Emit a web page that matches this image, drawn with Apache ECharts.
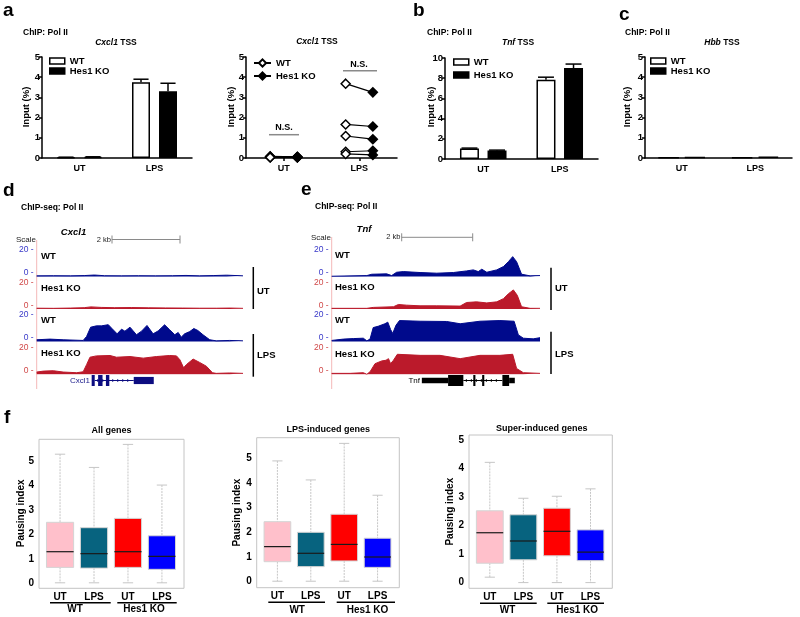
<!DOCTYPE html>
<html><head><meta charset="utf-8">
<script src="https://cdn.jsdelivr.net/npm/echarts@6/dist/echarts.min.js"></script>
<style>html,body{margin:0;padding:0;background:#fff}#c{width:800px;height:617px}</style>
</head><body><div id="c"></div><script>
// ================= DATA =================
const barCats = ['UT', 'LPS'];
// a: Cxcl1 TSS ChIP Pol II (Input %)
const cxcl1WT = [0.03, 3.75];
const cxcl1WTErr = [0.01, 0.15];
const cxcl1KO = [0.05, 3.3];
const cxcl1KOErr = [0.01, 0.4];
// a (right): individual replicates
const repUT_WT = [0.08, 0.06, 0.05, 0.04, 0.03];
const repUT_KO = [0.06, 0.05, 0.04, 0.04, 0.03];
const repLPS_WT = [3.68, 1.66, 1.09, 0.31, 0.20];
const repLPS_KO = [3.25, 1.56, 0.93, 0.36, 0.15];
// b: Tnf TSS
const tnfWT = [1.05, 7.85];
const tnfWTErr = [0.03, 0.25];
const tnfKO = [0.85, 9.0];
const tnfKOErr = [0.03, 0.4];
// c: Hbb TSS
const hbbWT = [0.02, 0.03];
const hbbKO = [0.04, 0.07];
// d: ChIP-seq Cxcl1 locus, [position kb, signal]
const cxcl1_WT_UT = [[0,0.5],[0.5,0.6],[1.0,0.5],[1.4,0.7],[1.7,1.1],[2.0,0.6],[2.5,0.5],[3.0,0.6],[3.5,0.5],[4.0,0.6],[4.4,0.8],[4.8,0.5],[5.2,0.7],[5.6,1.0],[6.08,0.5]];
const cxcl1_KO_UT = [[0,0.6],[0.5,0.5],[1.0,0.7],[1.4,1.0],[1.6,1.6],[1.9,1.2],[2.3,1.0],[2.8,1.1],[3.3,0.9],[3.8,0.8],[4.3,0.7],[4.8,0.6],[5.3,0.6],[5.7,0.7],[6.08,0.5]];
const cxcl1_WT_LPS = [[0,1.3],[0.39,1.8],[0.78,1.3],[1.37,0.8],[1.47,3.8],[1.59,10.8],[1.76,11.8],[1.91,11.8],[2.11,12.7],[2.21,10],[2.37,5.8],[2.5,9.3],[2.6,7.8],[2.75,10.8],[2.94,5.1],[3.09,7.8],[3.25,12.1],[3.43,5.8],[3.58,8],[3.77,12.6],[3.92,8.8],[4.07,5.1],[4.17,6.8],[4.26,3.3],[4.36,5.8],[4.51,7.5],[4.63,9.8],[4.75,8.3],[4.9,5.1],[5.1,1.3],[5.29,0.5],[5.69,0.8],[6.08,0.5]];
const cxcl1_KO_LPS = [[0,1.7],[0.2,2.4],[0.49,2.7],[0.78,1.7],[1.18,1.2],[1.37,1.9],[1.47,7.3],[1.57,12.9],[1.76,13.9],[2.16,14.2],[2.35,12.9],[2.75,13.4],[3.14,12.2],[3.53,13.4],[3.92,14.2],[4.12,13.9],[4.22,11],[4.33,4.9],[4.41,7.3],[4.61,11.5],[4.8,9],[5.0,6.1],[5.18,1.2],[5.29,0.7],[5.69,1],[6.08,0.7]];
const cxcl1Exons = [[1.62,1.71,1],[1.81,1.94,1],[2.04,2.14,1],[2.86,3.45,0.65]];
const cxcl1Introns = [[1.71,2.86]];
// e: ChIP-seq Tnf locus
const tnf_WT_UT = [[0,0.2],[0.99,0.7],[1.13,1.7],[1.55,2.0],[1.69,0.7],[1.83,3.2],[2.02,3.7],[2.49,3.0],[2.96,2.5],[3.43,3.0],[3.8,4.2],[3.99,5.0],[4.13,3.7],[4.23,5.5],[4.37,3.2],[4.65,5.0],[4.84,7.5],[4.98,11.2],[5.1,15.0],[5.21,11.2],[5.35,1.7],[5.59,0.5],[5.87,0.7]];
const tnf_KO_UT = [[0,0.5],[0.99,0.5],[1.17,1.2],[1.74,1.7],[1.88,3.4],[2.11,2.9],[2.49,2.4],[2.96,2.4],[3.62,2.2],[3.8,4.9],[4.08,5.4],[4.37,4.6],[4.65,5.4],[4.84,7.8],[4.98,11.5],[5.12,14.4],[5.23,10.3],[5.35,1.7],[5.59,0.5],[5.87,0.5]];
const tnf_WT_LPS = [[0,0.8],[0.33,1.8],[0.61,2.2],[0.89,2.5],[0.99,0.5],[1.08,1.8],[1.17,10.5],[1.31,11.5],[1.5,13.4],[1.58,14.6],[1.66,9.0],[1.72,6.1],[1.81,12.2],[1.91,15.8],[2.49,15.3],[3.24,15.1],[3.62,13.4],[4.18,15.3],[4.74,15.8],[5.14,15.3],[5.26,5.0],[5.4,2.5],[5.68,2.0],[5.87,2.9]];
const tnf_KO_LPS = [[0,0.7],[0.52,0.7],[0.89,1.2],[0.99,0],[1.08,1.9],[1.22,8.0],[1.41,10.1],[1.53,10.6],[1.6,11.8],[1.66,8.0],[1.74,10.6],[1.85,15.1],[2.49,14.3],[3.05,14.3],[3.62,11.8],[4.18,14.3],[4.74,14.3],[5.1,15.1],[5.21,4.4],[5.4,1.2],[5.87,0.7]];
const tnfExons = [[2.54,3.28,0.5],[3.28,3.71,1],[3.99,4.05,1],[4.24,4.30,1],[4.81,5.0,1],[5.0,5.16,0.5]];
const tnfIntrons = [[3.71,4.81]];
// f: pausing index boxplots [min, Q1, median, Q3, max] for WT-UT, WT-LPS, KO-UT, KO-LPS
const boxGroups = ['UT', 'LPS', 'UT', 'LPS'];
const allGenesStats = [[0.02,0.65,1.29,2.49,5.27],[0.02,0.62,1.21,2.27,4.73],[0.02,0.65,1.29,2.65,5.67],[0.02,0.57,1.10,1.94,4.01]];
const lpsInducedStats = [[0.02,0.81,1.42,2.43,4.89],[0.02,0.61,1.15,2.00,4.12],[0.02,0.84,1.51,2.73,5.60],[0.02,0.58,1.00,1.76,3.50]];
const superInducedStats = [[0.19,0.68,1.75,2.52,4.22],[0.0,0.80,1.46,2.38,2.96],[0.0,0.94,1.80,2.61,3.03],[0.0,0.77,1.07,1.85,3.29]];
const boxColors = ['#ffc0cb', '#07637f', '#ff0000', '#0000ff'];

// ================= BUILD =================
const FONT = '"Liberation Sans", Arial, Helvetica, sans-serif';
const grids = [], xAxes = [], yAxes = [], extraY = [], series = [], graphics = [], legends = [];
function addGrid(g) { grids.push(g); return grids.length - 1; }
const BLUE = '#000a8c', RED = '#bb1a2b';

function T(x, y, text, o) {
  o = o || {};
  const st = { text: text, fill: o.color || '#000', fontFamily: FONT, fontSize: o.size || 9,
    fontWeight: o.weight || 'bold', fontStyle: o.italic ? 'italic' : 'normal',
    align: o.align || 'left', verticalAlign: 'middle' };
  if (o.rich) st.rich = o.rich;
  graphics.push({ type: 'text', x: x, y: y, rotation: o.rot || 0, silent: true, style: st });
}
function L(x1, y1, x2, y2, o) {
  o = o || {};
  graphics.push({ type: 'line', silent: true, shape: { x1: x1, y1: y1, x2: x2, y2: y2 },
    style: { stroke: o.color || '#000', lineWidth: o.w || 1.5 } });
}
const italicRich = (sz) => ({ i: { fontStyle: 'italic', fontWeight: 'bold', fontSize: sz, fontFamily: FONT, fill: '#000' } });

const axisBlack = { lineStyle: { color: '#000', width: 1.5 } };
function barAxes(i, ymax, yint) {
  xAxes.push({ gridIndex: i, type: 'category', data: barCats, axisLine: axisBlack,
    axisTick: { alignWithLabel: true, length: 3, lineStyle: { color: '#000', width: 1.5 } },
    axisLabel: { color: '#000', fontWeight: 'bold', fontSize: 9, fontFamily: FONT, margin: 6 } });
  yAxes.push({ gridIndex: i, type: 'value', min: 0, max: ymax, interval: yint,
    axisLine: { show: true, lineStyle: { color: '#000', width: 1.5 } },
    axisTick: { show: true, length: 3, lineStyle: { color: '#000', width: 1.5 } },
    axisLabel: { color: '#000', fontWeight: 'bold', fontSize: 9.5, fontFamily: FONT, margin: 2 },
    splitLine: { show: false } });
}
function errSeries(i, vals, errs, dx, half) {
  return { type: 'custom', xAxisIndex: i, yAxisIndex: i, z: 5,
    data: vals.map((v, k) => [k, v, v + errs[k]]),
    encode: { x: 0, y: [1, 2] },
    renderItem: function (params, api) {
      const p0 = api.coord([api.value(0), api.value(1)]);
      const p1 = api.coord([api.value(0), api.value(2)]);
      const x = p0[0] + dx;
      return { type: 'group', children: [
        { type: 'line', shape: { x1: x, y1: p0[1], x2: x, y2: p1[1] }, style: { stroke: '#000', lineWidth: 1.5 } },
        { type: 'line', shape: { x1: x - half, y1: p1[1], x2: x + half, y2: p1[1] }, style: { stroke: '#000', lineWidth: 1.5 } }
      ] };
    } };
}
function barPanel(box, ymax, yint, wt, ko, wtErr, koErr, barW, gap) {
  const i = addGrid(box);
  barAxes(i, ymax, yint);
  series.push({ type: 'bar', name: 'WT', xAxisIndex: i, yAxisIndex: i, data: wt, barWidth: barW, barGap: gap,
    itemStyle: { color: '#fff', borderColor: '#000', borderWidth: 1.5 } });
  series.push({ type: 'bar', name: 'Hes1 KO', xAxisIndex: i, yAxisIndex: i, data: ko, barWidth: barW, barGap: gap,
    itemStyle: { color: '#000', borderColor: '#000', borderWidth: 1.5 } });
  const off = (barW + barW * parseFloat(gap) / 100) / 2;
  if (wtErr) series.push(errSeries(i, wt, wtErr, -off, barW * 0.42));
  if (koErr) series.push(errSeries(i, ko, koErr, off, barW * 0.42));
  return i;
}
const legItems = [
  { name: 'WT', itemStyle: { color: '#fff', borderColor: '#000', borderWidth: 1.5 } },
  { name: 'Hes1 KO', itemStyle: { color: '#000', borderColor: '#000', borderWidth: 1.5 } }
];
function barLegend(left, top, gap) {
  legends.push({ left: left, top: top, orient: 'vertical', icon: 'rect', itemWidth: 15, itemHeight: 6, itemGap: gap,
    selectedMode: false, data: legItems,
    textStyle: { fontWeight: 'bold', fontSize: 9.5, fontFamily: FONT, color: '#000' } });
}

// ---- panel a (left)
barPanel({ left: 42, top: 57, width: 150, height: 101 }, 5, 1, cxcl1WT, cxcl1KO, cxcl1WTErr, cxcl1KOErr, 18, '50%');
barLegend(44, 51, 0);
// ---- panel a (right): paired replicates
const ia = addGrid({ left: 246, top: 57, width: 151, height: 101 });
xAxes.push({ gridIndex: ia, type: 'value', min: 0, max: 4, axisLine: axisBlack,
  axisTick: { customValues: [1, 3], length: 3, lineStyle: { color: '#000', width: 1.5 } },
  axisLabel: { customValues: [1, 3], formatter: v => (v === 1 ? 'UT' : 'LPS'), color: '#000', fontWeight: 'bold', fontSize: 9, fontFamily: FONT, margin: 6 },
  splitLine: { show: false } });
yAxes.push({ gridIndex: ia, type: 'value', min: 0, max: 5, interval: 1,
  axisLine: { show: true, lineStyle: { color: '#000', width: 1.5 } },
  axisTick: { show: true, length: 3, lineStyle: { color: '#000', width: 1.5 } },
  axisLabel: { color: '#000', fontWeight: 'bold', fontSize: 9.5, fontFamily: FONT, margin: 2 },
  splitLine: { show: false } });
const pairX = { UT: [0.64, 1.36], LPS: [2.64, 3.36] };
function pairSeries(xp, wtv, kov) {
  wtv.forEach((v, k) => {
    series.push({ type: 'line', xAxisIndex: ia, yAxisIndex: ia, symbol: 'diamond', symbolSize: 9, z: 3,
      lineStyle: { color: '#000', width: 1.2 }, itemStyle: { borderColor: '#000', borderWidth: 1.5 },
      data: [{ value: [xp[0], v], itemStyle: { color: '#fff' } }, { value: [xp[1], kov[k]], itemStyle: { color: '#000' } }] });
  });
}
pairSeries(pairX.UT, repUT_WT, repUT_KO);
pairSeries(pairX.LPS, repLPS_WT, repLPS_KO);
series.push({ type: 'line', name: 'WT_r', xAxisIndex: ia, yAxisIndex: ia, data: [], symbol: 'diamond', symbolSize: 9,
  itemStyle: { color: '#fff', borderColor: '#000', borderWidth: 1.5 }, lineStyle: { color: '#000', width: 1.5 } });
series.push({ type: 'line', name: 'KO_r', xAxisIndex: ia, yAxisIndex: ia, data: [], symbol: 'diamond', symbolSize: 9,
  itemStyle: { color: '#000', borderColor: '#000', borderWidth: 1.5 }, lineStyle: { color: '#000', width: 1.5 } });
legends.push({ left: 248, top: 53, orient: 'vertical', itemWidth: 17, itemHeight: 9, itemGap: 3, selectedMode: false,
  data: ['WT_r', 'KO_r'], formatter: n => (n === 'WT_r' ? 'WT' : 'Hes1 KO'),
  textStyle: { fontWeight: 'bold', fontSize: 9.5, fontFamily: FONT, color: '#000' } });
// ---- panel b
barPanel({ left: 445, top: 58, width: 153, height: 101 }, 10, 2, tnfWT, tnfKO, tnfWTErr, tnfKOErr, 19, '45%');
barLegend(448, 52, 3);
// ---- panel c
barPanel({ left: 645, top: 57, width: 147, height: 101 }, 5, 1, hbbWT, hbbKO, null, null, 21, '25%');
barLegend(645, 51, 0);

// ---- tracks
function trackPanel(left, width, len, tops, profiles, colors, exons, introns, geneColor) {
  profiles.forEach((p, k) => {
    const i = addGrid({ left: left, top: tops[k], width: width, height: 26.5 });
    const lc = colors[k] === BLUE ? '#3838c8' : '#d04848';
    xAxes.push({ gridIndex: i, type: 'value', min: 0, max: len, show: false });
    yAxes.push({ gridIndex: i, type: 'value', position: 'left', min: 0, max: 20,
      axisLine: { show: false }, axisTick: { show: false }, splitLine: { show: false },
      axisLabel: { customValues: [20], formatter: v => v + ' -', color: lc, fontSize: 8.5, fontFamily: FONT, margin: 3 } });
    extraY.push({ gridIndex: i, type: 'value', position: 'left', min: 0, max: 20,
      axisLine: { show: false }, axisTick: { show: false }, splitLine: { show: false },
      axisLabel: { customValues: [0], formatter: v => v + ' -', color: lc, fontSize: 8.5, fontFamily: FONT, margin: 3, verticalAlign: 'bottom', lineHeight: 7 } });
    series.push({ type: 'line', xAxisIndex: i, yAxisIndex: i, data: p, symbol: 'none', silent: true,
      lineStyle: { color: colors[k], width: 1 }, areaStyle: { color: colors[k], opacity: 1 } });
  });
  const g = addGrid({ left: left, top: 375, width: width, height: 11 });
  xAxes.push({ gridIndex: g, type: 'value', min: 0, max: len, show: false });
  yAxes.push({ gridIndex: g, type: 'value', min: 0, max: 1, show: false });
  series.push({ type: 'custom', xAxisIndex: g, yAxisIndex: g, data: introns, encode: { x: [0, 1] },
    renderItem: function (params, api) {
      const a = api.coord([api.value(0), 0.5]), b = api.coord([api.value(1), 0.5]);
      const ch = [{ type: 'line', shape: { x1: a[0], y1: a[1], x2: b[0], y2: b[1] }, style: { stroke: geneColor, lineWidth: 1 } }];
      for (let x = a[0] + 4; x < b[0] - 2; x += 5) {
        ch.push({ type: 'polyline', shape: { points: [[x - 1.5, a[1] - 1.5], [x, a[1]], [x - 1.5, a[1] + 1.5]] }, style: { stroke: geneColor, lineWidth: 0.8, fill: 'none' } });
      }
      return { type: 'group', children: ch };
    } });
  series.push({ type: 'custom', xAxisIndex: g, yAxisIndex: g, data: exons, encode: { x: [0, 1] },
    renderItem: function (params, api) {
      const h = api.value(2);
      const a = api.coord([api.value(0), 0.5 + h / 2]), b = api.coord([api.value(1), 0.5 - h / 2]);
      return { type: 'rect', shape: { x: a[0], y: a[1], width: Math.max(1.5, b[0] - a[0]), height: b[1] - a[1] }, style: { fill: geneColor } };
    } });
}
const trackTops = [250, 282.5, 315, 347.8];
trackPanel(36.7, 206.3, 6.08, trackTops, [cxcl1_WT_UT, cxcl1_KO_UT, cxcl1_WT_LPS, cxcl1_KO_LPS], [BLUE, RED, BLUE, RED], cxcl1Exons, cxcl1Introns, '#0c0c80');
trackPanel(331.7, 208.3, 5.87, trackTops, [tnf_WT_UT, tnf_KO_UT, tnf_WT_LPS, tnf_KO_LPS], [BLUE, RED, BLUE, RED], tnfExons, tnfIntrons, '#000');

// ---- boxplots
function boxPanel(box, ymin, ymax, stats) {
  const i = addGrid(Object.assign({ show: true, borderColor: '#c4c4c4', borderWidth: 1, backgroundColor: 'transparent' }, box));
  xAxes.push({ gridIndex: i, type: 'value', min: 0.38, max: 4.65, axisLine: { show: false }, axisTick: { show: false }, splitLine: { show: false },
    axisLabel: { customValues: [1, 2, 3, 4], formatter: v => boxGroups[v - 1], color: '#000', fontWeight: 'bold', fontSize: 10, fontFamily: FONT, margin: 4 } });
  yAxes.push({ gridIndex: i, type: 'value', min: ymin, max: ymax, axisLine: { show: false }, splitLine: { show: false },
    axisTick: { show: false },
    axisLabel: { customValues: [0, 1, 2, 3, 4, 5], color: '#000', fontWeight: 'bold', fontSize: 10, fontFamily: FONT, margin: 5 } });
  series.push({ type: 'custom', xAxisIndex: i, yAxisIndex: i, encode: { x: 0, y: [1, 5] },
    data: stats.map((s, k) => [k + 1, s[0], s[1], s[2], s[3], s[4], k]),
    renderItem: function (params, api) {
      const x = api.value(0);
      const w = api.size([0.8, 0])[0];
      const cx = api.coord([x, 0])[0];
      const y = v => api.coord([x, v])[1];
      const mn = y(api.value(1)), q1 = y(api.value(2)), md = y(api.value(3)), q3 = y(api.value(4)), mx = y(api.value(5));
      const cw = w * 0.19;
      const wh = { stroke: '#c6c6c6', lineWidth: 1 };
      return { type: 'group', children: [
        { type: 'line', shape: { x1: cx, y1: mx, x2: cx, y2: q3 }, style: { stroke: '#c6c6c6', lineWidth: 1, lineDash: [2, 1] } },
        { type: 'line', shape: { x1: cx, y1: q1, x2: cx, y2: mn }, style: { stroke: '#c6c6c6', lineWidth: 1, lineDash: [2, 1] } },
        { type: 'line', shape: { x1: cx - cw, y1: mx, x2: cx + cw, y2: mx }, style: wh },
        { type: 'line', shape: { x1: cx - cw, y1: mn, x2: cx + cw, y2: mn }, style: wh },
        { type: 'rect', shape: { x: cx - w / 2, y: q3, width: w, height: q1 - q3 }, style: { fill: boxColors[api.value(6)], stroke: '#d4d4d4', lineWidth: 1 } },
        { type: 'line', shape: { x1: cx - w / 2, y1: md, x2: cx + w / 2, y2: md }, style: { stroke: '#1a1a1a', lineWidth: 1.2 } }
      ] };
    } });
}
boxPanel({ left: 39, top: 439.3, width: 145, height: 149 }, -0.204, 5.878, allGenesStats);
boxPanel({ left: 256.7, top: 437.7, width: 142.6, height: 150 }, -0.243, 5.83, lpsInducedStats);
boxPanel({ left: 469, top: 435, width: 143.3, height: 153.3 }, -0.2, 5.18, superInducedStats);

// ================= TEXT & ANNOTATIONS =================
// panel a
T(3, 11, 'a', { size: 19 });
T(23, 33, 'ChIP: Pol II', { size: 8.5 });
T(116, 43, '{i|Cxcl1} TSS', { size: 8.5, align: 'center', rich: italicRich(8.5) });
T(26.5, 107, 'Input (%)', { size: 9.5, align: 'center', rot: Math.PI / 2 });
T(317, 42, '{i|Cxcl1} TSS', { size: 8.5, align: 'center', rich: italicRich(8.5) });
T(231.5, 107, 'Input (%)', { size: 9.5, align: 'center', rot: Math.PI / 2 });
T(284, 128, 'N.S.', { size: 9, align: 'center' });
L(269, 134.7, 299, 134.7, { color: '#8a8a8a', w: 1.5 });
T(359, 65, 'N.S.', { size: 9, align: 'center' });
L(343, 70.7, 377, 70.7, { color: '#8a8a8a', w: 1.5 });
// panel b
T(413, 11, 'b', { size: 19 });
T(427, 33, 'ChIP: Pol II', { size: 8.5 });
T(518, 43, '{i|Tnf} TSS', { size: 8.5, align: 'center', rich: italicRich(8.5) });
T(431.5, 107, 'Input (%)', { size: 9.5, align: 'center', rot: Math.PI / 2 });
// panel c
T(619, 15, 'c', { size: 19 });
T(625, 33, 'ChIP: Pol II', { size: 8.5 });
T(722, 43, '{i|Hbb} TSS', { size: 8.5, align: 'center', rich: italicRich(8.5) });
T(627, 107, 'Input (%)', { size: 9.5, align: 'center', rot: Math.PI / 2 });
// panel d
T(3, 191, 'd', { size: 19 });
T(21, 208, 'ChIP-seq: Pol II', { size: 8.5 });
T(73.5, 232, 'Cxcl1', { size: 9.5, italic: true, align: 'center' });
T(36, 240, 'Scale', { size: 8, weight: 'normal', align: 'right', color: '#222' });
T(111, 239.5, '2 kb', { size: 7.5, weight: 'normal', align: 'right', color: '#222' });
L(112, 239.5, 180, 239.5, { color: '#8a8a8a', w: 1 });
L(112, 235.5, 112, 243.5, { color: '#8a8a8a', w: 1 });
L(180, 235.5, 180, 243.5, { color: '#8a8a8a', w: 1 });
L(36.7, 240, 36.7, 389, { color: '#f4b8b8', w: 1 });
T(41, 256, 'WT', { size: 9.5 });
T(41, 288.3, 'Hes1 KO', { size: 9.5 });
T(41, 320.7, 'WT', { size: 9.5 });
T(41, 353.3, 'Hes1 KO', { size: 9.5 });
L(253.3, 267, 253.3, 309, { w: 1.5 });
T(257, 291.7, 'UT', { size: 9.5 });
L(253.3, 334, 253.3, 376.7, { w: 1.5 });
T(257, 355, 'LPS', { size: 9.5 });
T(90, 380.5, 'Cxcl1', { size: 8, weight: 'normal', align: 'right', color: '#1c1c8c' });
// panel e
T(301, 190, 'e', { size: 19 });
T(315, 207, 'ChIP-seq: Pol II', { size: 8.5 });
T(364, 229, 'Tnf', { size: 9.5, italic: true, align: 'center' });
T(331, 237.3, 'Scale', { size: 8, weight: 'normal', align: 'right', color: '#222' });
T(400.5, 237.3, '2 kb', { size: 7.5, weight: 'normal', align: 'right', color: '#222' });
L(401.7, 237.3, 472.7, 237.3, { color: '#8a8a8a', w: 1 });
L(401.7, 233.3, 401.7, 241.3, { color: '#8a8a8a', w: 1 });
L(472.7, 233.3, 472.7, 241.3, { color: '#8a8a8a', w: 1 });
L(331.7, 237, 331.7, 389, { color: '#f4b8b8', w: 1 });
T(335, 255, 'WT', { size: 9.5 });
T(335, 287.7, 'Hes1 KO', { size: 9.5 });
T(335, 320.7, 'WT', { size: 9.5 });
T(335, 354, 'Hes1 KO', { size: 9.5 });
L(551, 267.7, 551, 310, { w: 1.5 });
T(555, 288, 'UT', { size: 9.5 });
L(551, 331.7, 551, 374, { w: 1.5 });
T(555, 354, 'LPS', { size: 9.5 });
T(420, 380.5, 'Tnf', { size: 8, weight: 'normal', align: 'right' });
// panel f
T(4, 418, 'f', { size: 19 });
T(111.5, 430.7, 'All genes', { size: 9, align: 'center' });
T(328.3, 430, 'LPS-induced genes', { size: 9, align: 'center' });
T(541.8, 428.3, 'Super-induced genes', { size: 9, align: 'center' });
T(21, 513.3, 'Pausing index', { size: 10, align: 'center', rot: Math.PI / 2 });
T(237, 512.7, 'Pausing index', { size: 10, align: 'center', rot: Math.PI / 2 });
T(450, 511.7, 'Pausing index', { size: 10, align: 'center', rot: Math.PI / 2 });
L(50, 602.7, 110.7, 602.7); L(117.3, 602.7, 176.7, 602.7);
T(75, 609.5, 'WT', { size: 10, align: 'center' }); T(144, 609.5, 'Hes1 KO', { size: 10, align: 'center' });
L(268.3, 602.3, 325, 602.3); L(336.7, 602.3, 395, 602.3);
T(297.2, 610, 'WT', { size: 10, align: 'center' }); T(367.5, 610, 'Hes1 KO', { size: 10, align: 'center' });
L(480, 603.3, 536.7, 603.3); L(547.3, 603.3, 604, 603.3);
T(507.5, 610, 'WT', { size: 10, align: 'center' }); T(577.2, 610, 'Hes1 KO', { size: 10, align: 'center' });

const chart = echarts.init(document.getElementById('c'), null, { renderer: 'canvas' });
chart.setOption({
  animation: false,
  backgroundColor: '#fff',
  textStyle: { fontFamily: FONT },
  grid: grids, xAxis: xAxes, yAxis: yAxes.concat(extraY), series: series, legend: legends, graphic: graphics
});
</script></body></html>
